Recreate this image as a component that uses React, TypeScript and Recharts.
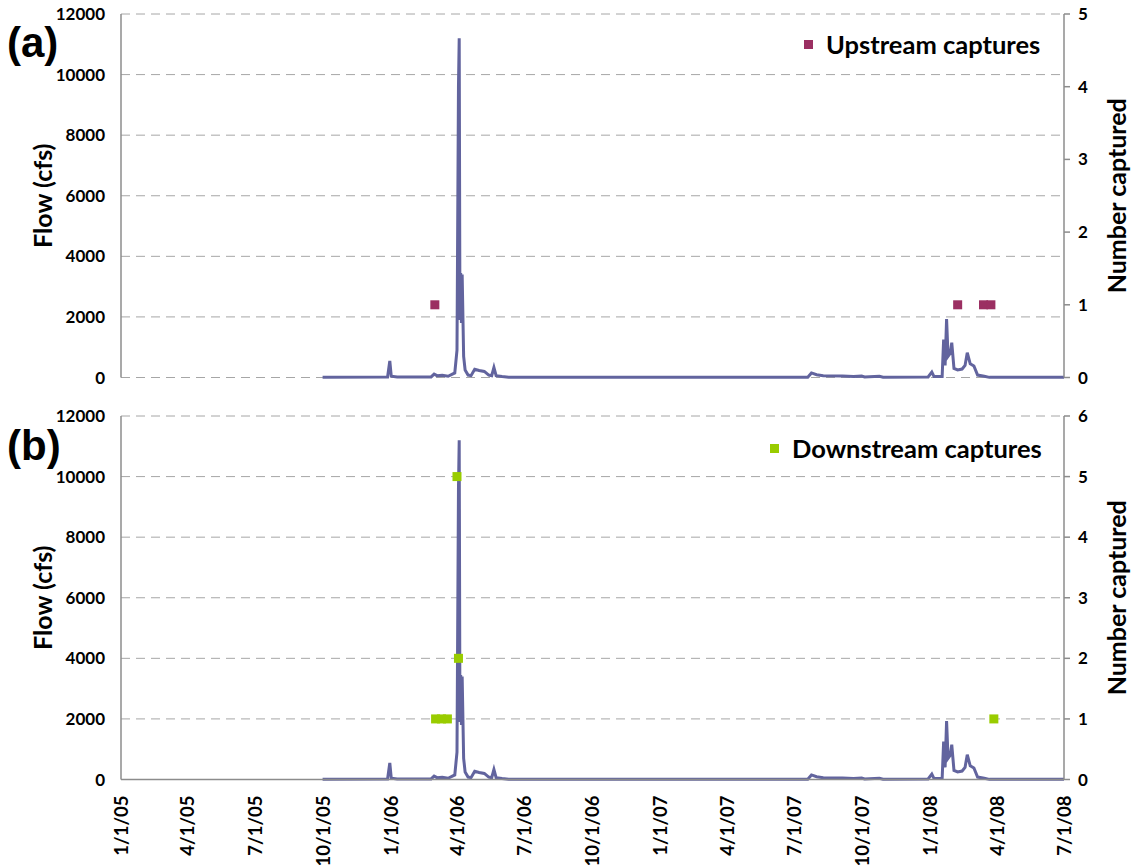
import {
  ComposedChart,
  Line,
  Scatter,
  XAxis,
  YAxis,
  CartesianGrid,
  Label,
} from "recharts";

const FONT = "Lato, 'Liberation Sans', Arial, sans-serif";
const AXIS_GRAY = "#8c8c8c";
const FLOW_COLOR = "#62649e";
const UP_COLOR = "#9b2f62";
const DOWN_COLOR = "#99cc00";

// daily flow readings (cfs)
const flowDates = [
  "2005-10-01", "2005-12-28", "2005-12-31", "2006-01-02", "2006-01-10",
  "2006-02-25", "2006-03-01", "2006-03-05", "2006-03-12", "2006-03-20",
  "2006-03-29", "2006-04-01", "2006-04-03", "2006-04-04", "2006-04-05",
  "2006-04-06", "2006-04-07", "2006-04-08", "2006-04-10", "2006-04-12",
  "2006-04-16", "2006-04-20", "2006-04-25", "2006-05-01", "2006-05-08",
  "2006-05-14", "2006-05-18", "2006-05-21", "2006-05-24", "2006-06-01",
  "2006-06-10", "2007-07-20", "2007-07-25", "2007-08-01", "2007-08-10",
  "2007-09-05", "2007-09-20", "2007-10-01", "2007-10-05", "2007-10-25",
  "2007-10-30", "2007-12-30", "2008-01-04", "2008-01-07", "2008-01-18",
  "2008-01-20", "2008-01-22", "2008-01-24", "2008-01-26", "2008-01-29",
  "2008-01-31", "2008-02-03", "2008-02-08", "2008-02-14", "2008-02-18",
  "2008-02-21", "2008-02-25", "2008-03-01", "2008-03-06", "2008-03-15",
  "2008-03-22", "2008-07-01",
];
const flowValues = [
  10, 20, 550, 40, 15,
  20, 110, 60, 70, 40,
  150, 900, 9600, 11200, 1900,
  3450, 1800, 3400, 700, 250,
  80, 60, 270, 230, 200,
  80, 60, 330, 60, 30,
  10, 10, 150, 90, 60,
  50, 30, 45, 15, 40,
  10, 20, 180, 30, 30,
  1250, 400, 1930, 700, 800,
  1150, 300, 250, 280, 400,
  820, 450, 380, 80, 40,
  5, 5,
];

const upstreamDates = ["2006-03-02", "2008-02-08", "2008-03-14", "2008-03-24"];
const upstreamCounts = [1, 1, 1, 1];

const downstreamDates = [
  "2006-03-03", "2006-03-11", "2006-03-19", "2006-04-01", "2006-04-03", "2008-03-28",
];
const downstreamCounts = [1, 1, 1, 5, 2, 1];

const xTickLabels = [
  "1/1/05", "4/1/05", "7/1/05", "10/1/05", "1/1/06", "4/1/06", "7/1/06", "10/1/06",
  "1/1/07", "4/1/07", "7/1/07", "10/1/07", "1/1/08", "4/1/08", "7/1/08",
];
const flowTicks = [0, 2000, 4000, 6000, 8000, 10000, 12000];
const upTicks = [0, 1, 2, 3, 4, 5];
const downTicks = [0, 1, 2, 3, 4, 5, 6];

const DAY0 = Date.UTC(2005, 0, 1);
const isoDay = (s: string) => {
  const [y, m, d] = s.split("-").map(Number);
  return (Date.UTC(y, m - 1, d) - DAY0) / 86400000;
};
const mdyDay = (s: string) => {
  const [m, d, y] = s.split("/").map(Number);
  return (Date.UTC(2000 + y, m - 1, d) - DAY0) / 86400000;
};

const flowData = flowDates.map((d, i) => ({ day: isoDay(d), flow: flowValues[i] }));
const upData = upstreamDates.map((d, i) => ({ day: isoDay(d), n: upstreamCounts[i] }));
const downData = downstreamDates.map((d, i) => ({ day: isoDay(d), n: downstreamCounts[i] }));
const xTicks = xTickLabels.map(mdyDay);
const xLabelByDay = new Map(xTicks.map((t, i) => [t, xTickLabels[i]]));

const TICK = { fontSize: 17, fontWeight: 700, fill: "#000", fontFamily: FONT };

const square = (color: string) => (props: any) => (
  <rect x={props.cx - 4.5} y={props.cy - 4.5} width={9} height={9} fill={color} />
);

const YTitle = (text: string, x: number) => (props: any) => {
  const vb = props.viewBox;
  const cy = vb.y + vb.height / 2;
  return (
    <text
      x={x}
      y={cy}
      transform={`rotate(-90, ${x}, ${cy})`}
      textAnchor="middle"
      dominantBaseline="central"
      fontSize={25}
      fontWeight={700}
      fontFamily={FONT}
      fill="#000"
    >
      {text}
    </text>
  );
};

const DateTick = (props: any) => {
  const { x, y, payload } = props;
  return (
    <g transform={`translate(${x},${y + 8})`}>
      <text
        transform="rotate(-90)"
        textAnchor="end"
        dominantBaseline="central"
        {...TICK}
        fontSize={18.5}
      >
        {xLabelByDay.get(payload.value)}
      </text>
    </g>
  );
};

type PanelProps = {
  height: number;
  top: number;
  bottom: number;
  showDates: boolean;
  captures: { day: number; n: number }[];
  color: string;
  countTicks: number[];
};

function Panel({ height, top, bottom, showDates, captures, color, countTicks }: PanelProps) {
  const maxCount = countTicks[countTicks.length - 1];
  return (
    <ComposedChart
      width={1132}
      height={height}
      margin={{ top, right: 0, left: 0, bottom }}
    >
      <CartesianGrid
        yAxisId="left"
        vertical={false}
        stroke="#a6a6a6"
        strokeDasharray="9 6"
      />
      <XAxis
        dataKey="day"
        type="number"
        domain={[0, xTicks[xTicks.length - 1]]}
        ticks={xTicks}
        allowDataOverflow
        interval={0}
        height={showDates ? 85.5 : 0}
        tick={showDates ? <DateTick /> : false}
        tickLine={false}
        axisLine={{ stroke: AXIS_GRAY, strokeWidth: 1.5 }}
      />
      <YAxis
        yAxisId="left"
        width={121}
        domain={[0, 12000]}
        ticks={flowTicks}
        interval={0}
        tick={TICK}
        tickLine={false}
        tickMargin={10}
        axisLine={{ stroke: AXIS_GRAY, strokeWidth: 1.5 }}
      >
        <Label content={YTitle("Flow (cfs)", 42)} />
      </YAxis>
      <YAxis
        yAxisId="right"
        orientation="right"
        width={68}
        domain={[0, maxCount]}
        ticks={countTicks}
        interval={0}
        tick={TICK}
        tickSize={6}
        tickMargin={8}
        tickLine={{ stroke: AXIS_GRAY, strokeWidth: 1.5 }}
        axisLine={{ stroke: AXIS_GRAY, strokeWidth: 1.5 }}
      >
        <Label content={YTitle("Number captured", 1116)} />
      </YAxis>
      <Line
        yAxisId="left"
        data={flowData}
        dataKey="flow"
        type="linear"
        stroke={FLOW_COLOR}
        strokeWidth={3}
        dot={false}
        isAnimationActive={false}
      />
      <Scatter
        yAxisId="right"
        data={captures}
        dataKey="n"
        shape={square(color)}
        isAnimationActive={false}
      />
    </ComposedChart>
  );
}

function Legend({ left, top, color, text }: { left: number; top: number; color: string; text: string }) {
  return (
    <div
      style={{
        position: "absolute",
        left,
        top,
        display: "flex",
        alignItems: "center",
        gap: 13,
        fontFamily: FONT,
        fontWeight: 700,
        fontSize: 25.5,
        color: "#000",
        whiteSpace: "nowrap",
      }}
    >
      <span style={{ width: 9, height: 9, background: color, display: "inline-block" }} />
      {text}
    </div>
  );
}

const panelTag = {
  position: "absolute" as const,
  left: 7,
  fontFamily: "'Liberation Sans', Arial, sans-serif",
  fontWeight: 700,
  fontSize: 42,
  color: "#000",
};

export default function App() {
  return (
    <div
      style={{
        position: "absolute",
        left: 0,
        top: 0,
        width: 1132,
        height: 865,
        background: "#fff",
      }}
    >
      <div style={{ position: "absolute", left: 0, top: 0 }}>
        <Panel
          height={400}
          top={14}
          bottom={22.5}
          showDates={false}
          captures={upData}
          color={UP_COLOR}
          countTicks={upTicks}
        />
      </div>
      <div style={{ position: "absolute", left: 0, top: 400 }}>
        <Panel
          height={465}
          top={16}
          bottom={0}
          showDates
          captures={downData}
          color={DOWN_COLOR}
          countTicks={downTicks}
        />
      </div>
      <div style={{ ...panelTag, top: 19 }}>(a)</div>
      <div style={{ ...panelTag, top: 422 }}>(b)</div>
      <Legend left={804} top={29} color={UP_COLOR} text="Upstream captures" />
      <Legend left={770} top={433} color={DOWN_COLOR} text="Downstream captures" />
    </div>
  );
}
